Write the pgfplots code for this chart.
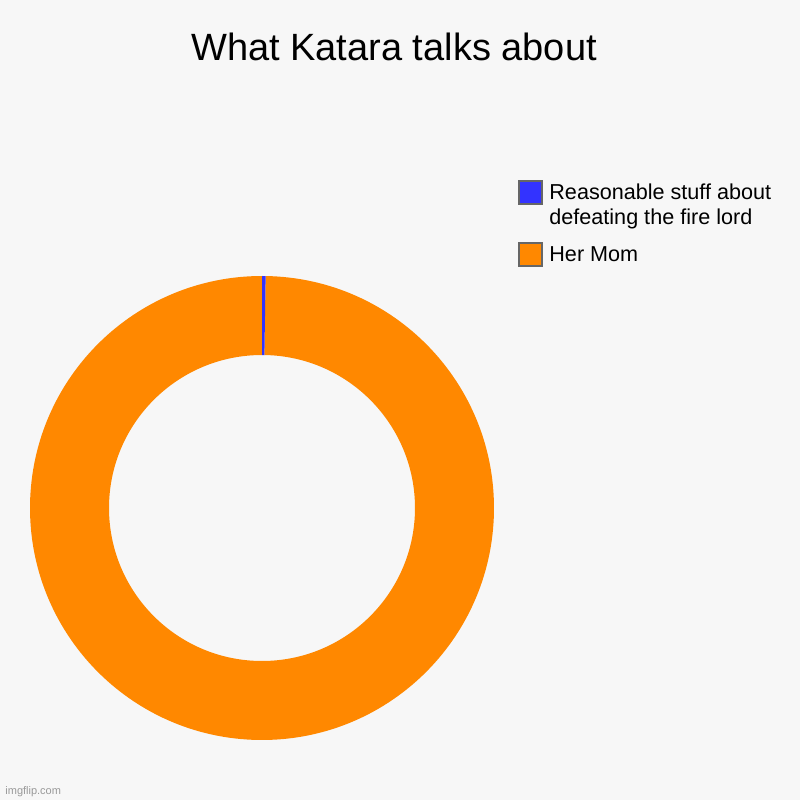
\documentclass[border=0pt]{standalone}
\usepackage{pgfplots}
\pgfplotsset{compat=1.18}
\usepackage{pgfplotstable}
\usepackage{fontspec}
\setmainfont{Liberation Sans}
\usetikzlibrary{calc}
\definecolor{bg}{HTML}{F7F7F7}
\definecolor{cblue}{HTML}{3333FF}
\definecolor{corange}{HTML}{FF8800}
\definecolor{cbord}{HTML}{666666}
\pgfplotstableread{
label value
Reasonable 0.25
HerMom 99.75
}\slices
\begin{document}
\begin{tikzpicture}
\begin{axis}[width=400pt,height=400pt,scale only axis,
  xmin=0,xmax=800,ymin=0,ymax=800,hide axis,clip=false]
\fill[bg] (axis cs:0,0) rectangle (axis cs:800,800);
\pgfplotstablegetelem{0}{value}\of\slices \pgfmathsetmacro{\va}{\pgfplotsretval}
\pgfplotstablegetelem{1}{value}\of\slices \pgfmathsetmacro{\vb}{\pgfplotsretval}
\pgfmathsetmacro{\tot}{\va+\vb}
\pgfmathsetmacro{\aA}{90}
\pgfmathsetmacro{\aB}{90-360*(\va/\tot)}
\pgfmathsetmacro{\aC}{90-360*((\va+\vb)/\tot)}
\coordinate (c) at (axis cs:262,292);
\def\Ro{116pt}\def\Ri{76.5pt}
\fill[corange] ($(c)+(\aB:\Ro)$) arc[start angle=\aB,end angle=\aC,radius=\Ro] -- ($(c)+(\aC:\Ri)$) arc[start angle=\aC,end angle=\aB,radius=\Ri] -- cycle;
\fill[cblue] ($(c)+(\aA:\Ro)$) arc[start angle=\aA,end angle=\aB,radius=\Ro] -- ($(c)+(\aB:\Ri)$) arc[start angle=\aB,end angle=\aA,radius=\Ri] -- cycle;
% title
\node[font=\fontsize{19}{22}\selectfont,anchor=base] at (axis cs:394,739) {What Katara talks about};
% legend
\draw[cbord,line width=1pt,fill=cblue] (axis cs:519,596) rectangle (axis cs:542,619);
\draw[cbord,line width=1pt,fill=corange] (axis cs:519,534) rectangle (axis cs:542,557);
\node[font=\fontsize{10.8}{12.4}\selectfont,anchor=base west,inner sep=0pt] at (axis cs:549,600) {Reasonable stuff about};
\node[font=\fontsize{10.8}{12.4}\selectfont,anchor=base west,inner sep=0pt] at (axis cs:549,575) {defeating the fire lord};
\node[font=\fontsize{10.8}{12.4}\selectfont,anchor=base west,inner sep=0pt] at (axis cs:549,538) {Her Mom};
\node[font=\fontsize{5.5}{6}\selectfont,text=gray!80,anchor=base west,inner sep=0pt] at (axis cs:5,5) {imgflip.com};
\end{axis}
\end{tikzpicture}
\end{document}
